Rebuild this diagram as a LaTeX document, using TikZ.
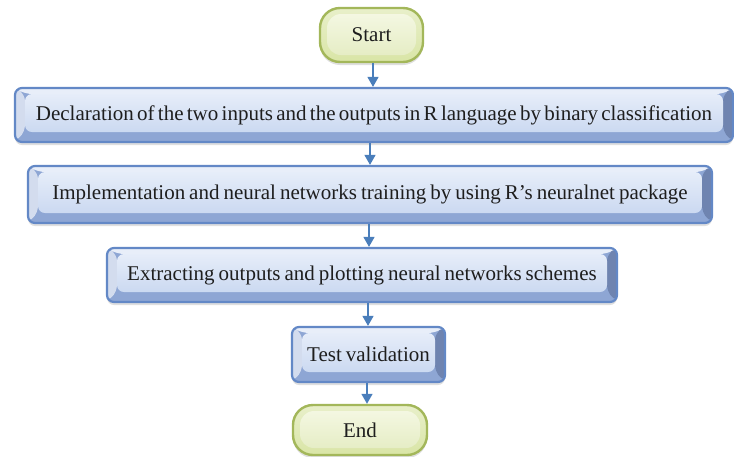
\documentclass[tikz,border=0pt]{standalone}
\usepackage{fontspec}
\setmainfont{Liberation Serif}
\usetikzlibrary{calc,shadows,arrows.meta}

\definecolor{boxborder}{HTML}{6388C6}
\definecolor{bevlight}{HTML}{D3DCEE}
\definecolor{bevtop}{HTML}{E8EEF9}
\definecolor{bevdark}{HTML}{6F84B0}
\definecolor{bevbottom}{HTML}{8EA6D4}
\definecolor{facetop}{HTML}{E6EDF9}
\definecolor{facebot}{HTML}{CBD9F1}
\definecolor{termborder}{HTML}{A3B75A}
\definecolor{termouter}{HTML}{D9E5A6}
\definecolor{termtop}{HTML}{F6F9E6}
\definecolor{termbot}{HTML}{E3EBC0}
\definecolor{arrowc}{HTML}{4A7EBB}
\definecolor{txtc}{HTML}{1E1E1E}

% label font: 21pt serif with slightly tight word spacing
\newcommand\labelfont{\fontsize{21}{24}\selectfont\spaceskip=4pt plus 1pt minus 1pt\relax}
\newcommand\tightfont{\fontsize{21}{24}\selectfont\spaceskip=3.3pt plus 1pt minus 1pt\relax}

\tikzset{
  lbl/.style={text=txtc, font=\labelfont},
  stepbox/.style={lbl, rectangle, rounded corners=7pt, draw=boxborder,
    line width=2.2pt, fill=bevbottom, inner sep=0pt,
    drop shadow={shadow xshift=0pt, shadow yshift=-3pt, opacity=0.25},
    path picture={
      \coordinate (pNW) at (path picture bounding box.north west);
      \coordinate (pSE) at (path picture bounding box.south east);
      \coordinate (pNE) at (path picture bounding box.north east);
      \coordinate (pSW) at (path picture bounding box.south west);
      \coordinate (iNW) at ($(pNW)+(10pt,-6pt)$);
      \coordinate (iNE) at ($(pNE)+(-10pt,-6pt)$);
      \coordinate (iSE) at ($(pSE)+(-10pt,10pt)$);
      \coordinate (iSW) at ($(pSW)+(10pt,10pt)$);
      % bevel edges round the raised face
      \fill[bevtop] (pNW) -- (pNE) -- (iNE) -- (iNW) -- cycle;
      \fill[bevlight] (pNW) -- (iNW) -- (iSW) -- (pSW) -- cycle;
      \fill[bevdark] (pNE) -- (pSE) -- (iSE) -- (iNE) -- cycle;
      \fill[bevbottom] (pSW) -- (iSW) -- (iSE) -- (pSE) -- cycle;
      \shade[top color=facetop, bottom color=facebot] (iNW) rectangle (iSE);
    }},
  termbox/.style={lbl, rectangle, rounded corners=20pt, draw=termborder,
    line width=2.4pt, inner sep=0pt,
    top color=termouter!60!white, bottom color=termouter,
    drop shadow={shadow xshift=0pt, shadow yshift=-3pt, opacity=0.25},
    path picture={
      \shade[top color=termtop, bottom color=termbot, rounded corners=14pt]
        ($(path picture bounding box.north west)+(7pt,-6pt)$) rectangle
        ($(path picture bounding box.south east)+(-7pt,7pt)$);
    }},
  arr/.style={draw=arrowc, line width=1.4pt,
    -{Triangle[length=10pt,width=11pt]}},
}

\begin{document}
\begin{tikzpicture}[x=1pt,y=-1pt]
\useasboundingbox (0,0) rectangle (734,456);

\node[termbox, minimum width=103pt, minimum height=54pt] (start) at (371.5,35) {Start};
\node[stepbox, font=\tightfont, minimum width=718pt, minimum height=54pt] (b1) at (374,115)
  {Declaration of the two inputs and the outputs in R language by binary classification};
\node[stepbox, minimum width=684pt, minimum height=57pt] (b2) at (370,194.5)
  {Implementation and neural networks training by using R’s neuralnet package};
\node[stepbox, minimum width=510pt, minimum height=54pt] (b3) at (362,275)
  {Extracting outputs and plotting neural networks schemes};
\node[stepbox, minimum width=153pt, minimum height=55pt] (b4) at (368.5,354.5)
  {Test validation};
\node[termbox, minimum width=134pt, minimum height=50pt] (end) at (360,430) {End};

\coordinate (a1) at (373,0);
\coordinate (a2) at (370,0);
\coordinate (a3) at (369,0);
\coordinate (a4) at (368,0);
\coordinate (a5) at (367,0);

\draw[arr] (start.south -| a1) -- (b1.north -| a1);
\draw[arr] (b1.south -| a2) -- (b2.north -| a2);
\draw[arr] (b2.south -| a3) -- (b3.north -| a3);
\draw[arr] (b3.south -| a4) -- (b4.north -| a4);
\draw[arr] (b4.south -| a5) -- (end.north -| a5);
\end{tikzpicture}
\end{document}
